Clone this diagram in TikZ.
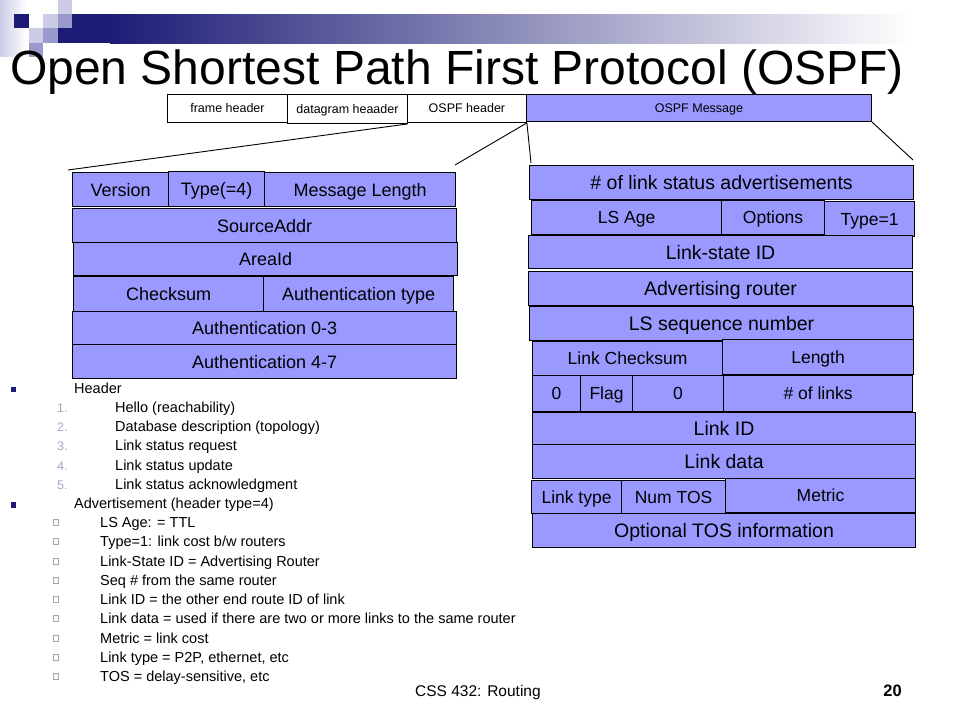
\documentclass[tikz,border=0pt]{standalone}
\usepackage{fontspec}
\setmainfont{Liberation Sans}
\definecolor{fieldc}{RGB}{153,153,255}
\definecolor{navy}{RGB}{28,28,118}
\definecolor{lav}{RGB}{204,204,230}
\definecolor{midlav}{RGB}{153,153,204}
\definecolor{numc}{RGB}{165,165,200}
\newcommand{\ospffld}[7]{\node[field,#7,minimum width={(#4-#2)*1pt},minimum height={(#5-#3)*1pt}] (#1) at (#2,#3) {#6};}
\tikzset{
  field/.style={draw=black, fill=fieldc, line width=1.1pt, inner sep=0pt, anchor=north west, text=black, text depth=0pt},
  hdrbox/.style={fill=white, line width=0.9pt, font=\fontsize{12.5}{14}\selectfont, text height=9pt},
  lfont/.style={font=\fontsize{18}{20}\selectfont, text height=12.9pt},
  rfont/.style={font=\fontsize{19.5}{22}\selectfont, text height=14pt},
  sfont/.style={font=\fontsize{17.5}{20}\selectfont, text height=12.5pt},
  listtxt/.style={anchor=base west, inner sep=0pt, font=\fontsize{14.5}{16}\selectfont},
  numtxt/.style={anchor=base west, inner sep=0pt, text=numc, font=\fontsize{12.5}{14}\selectfont},
  navybullet/.style={fill=navy, inner sep=0pt, minimum size=5.5pt},
  hollowbullet/.style={draw=gray!70, fill=white, line width=0.5pt, inner sep=0pt, minimum size=5.5pt},
  link/.style={draw=black, line width=0.9pt}
}
\begin{document}
\begin{tikzpicture}[x=1pt,y=-1pt]
\useasboundingbox[fill=white] (0,0) rectangle (960,720);
% top decoration
\shade[left color=lav, right color=white] (0,0) rectangle (26,56);
\shade[left color=navy, right color=white] (110,14) rectangle (913,43);
\fill[navy] (72,14) rectangle (111,43);
\fill[navy] (58,28) rectangle (72,43);
\fill[navy] (14,14) rectangle (29,28);
\fill[lav] (43,14) rectangle (58,28);
\fill[lav] (58,0) rectangle (72,14);
\fill[midlav] (58,14) rectangle (72,28);
\fill[lav] (29,28) rectangle (43,43);
\fill[midlav] (43,28) rectangle (58,43);
\fill[midlav] (29,43) rectangle (43,57);
% title
\node[anchor=base west, inner sep=0pt, font=\fontsize{48}{52}\selectfont] (title) at (10,84) {Open Shortest Path First Protocol (OSPF)};
% header bar
\ospffld{fh}{167}{94}{287}{122}{frame header}{hdrbox}
\ospffld{dh}{287}{94}{407}{123}{datagram heaader}{hdrbox}
\ospffld{oh}{407}{94}{526}{122}{OSPF header}{hdrbox}
\ospffld{om}{526}{94}{871}{121}{OSPF Message}{hdrbox, fill=fieldc}
% connectors
\coordinate (c1) at (68,170);
\coordinate (c2) at (455,165);
\coordinate (c3) at (531,163);
\coordinate (c4) at (913,160);
\draw[link] (dh.south east) -- (c1);
\draw[link] (oh.south east) -- (c2);
\draw[link] (oh.south east) -- (c3);
\draw[link] (om.south east) -- (c4);
% left block
\ospffld{ver}{72}{172}{168}{206}{Version}{lfont}
\ospffld{typ}{168}{171}{264}{206}{Type(=4)}{lfont}
\ospffld{mlen}{264}{172}{455}{206}{Message Length}{lfont}
\ospffld{src}{72}{208}{456}{242}{SourceAddr}{lfont}
\ospffld{area}{73}{242}{457}{275}{AreaId}{lfont}
\ospffld{cks}{73}{276}{263}{311}{Checksum}{lfont}
\ospffld{aut}{263}{276}{453}{311}{Authentication type}{lfont}
\ospffld{a03}{72}{311}{456}{344}{Authentication 0-3}{lfont}
\ospffld{a47}{72}{344}{456}{378}{Authentication 4-7}{lfont}
% right block
\ospffld{nlsa}{529}{165}{913}{199}{\# of link status advertisements}{rfont}
\ospffld{lsage}{531}{200}{721}{234}{LS Age}{sfont}
\ospffld{opt}{721}{200}{824}{234}{Options}{sfont}
\ospffld{tone}{824}{201}{914}{236}{Type=1}{sfont}
\ospffld{lsid}{528}{235}{912}{268}{Link-state ID}{rfont}
\ospffld{adv}{528}{271}{912}{305}{Advertising router}{rfont}
\ospffld{seq}{529}{306}{913}{340}{LS sequence number}{rfont}
\ospffld{lck}{532}{341}{722}{375}{Link Checksum}{sfont}
\ospffld{len}{722}{339}{913}{374}{Length}{sfont}
\ospffld{zone}{532}{375}{580}{411}{0}{sfont}
\ospffld{flag}{580}{375}{632}{411}{Flag}{sfont}
\ospffld{ztwo}{632}{375}{723}{411}{0}{sfont}
\ospffld{nl}{723}{375}{912}{411}{\# of links}{sfont}
\ospffld{lid}{532}{412}{915}{444}{Link ID}{rfont}
\ospffld{ldat}{532}{444}{915}{478}{Link data}{rfont}
\ospffld{metric}{725}{478}{915}{512}{Metric}{sfont}
\ospffld{ltype}{531}{480}{621}{513}{Link type}{sfont}
\ospffld{ntos}{621}{480}{725}{514}{Num TOS}{sfont}
\ospffld{otos}{532}{513}{915}{547}{Optional TOS information}{rfont}
% list
\node[navybullet] (b1) at (13.5,389.5) {};
\node[listtxt] (l1) at (74,393) {Header};
\node[numtxt] (n1) at (57,412) {1.};
\node[listtxt] (l2) at (115,412) {Hello (reachability)};
\node[numtxt] (n2) at (57,431) {2.};
\node[listtxt] (l3) at (115,431) {Database description (topology)};
\node[numtxt] (n3) at (57,450) {3.};
\node[listtxt] (l4) at (115,450) {Link status request};
\node[numtxt] (n4) at (57,470) {4.};
\node[listtxt] (l5) at (115,470) {Link status update};
\node[numtxt] (n5) at (57,489) {5.};
\node[listtxt] (l6) at (115,489) {Link status acknowledgment};
\node[navybullet] (b2) at (13.5,505) {};
\node[listtxt] (l7) at (74,508) {Advertisement (header type=4)};
\foreach \yy/\tt [count=\i] in {
  527/{LS Age: = TTL},
  546/{Type=1: link cost b/w routers},
  566/{Link-State ID = Advertising Router},
  585/{Seq \# from the same router},
  604/{Link ID = the other end route ID of link},
  623/{Link data = used if there are two or more links to the same router},
  643/{Metric = link cost},
  662/{Link type = P2P, ethernet, etc},
  681/{TOS = delay-sensitive, etc}}{
  \node[hollowbullet] (hb\i) at (55.5,\yy-5) {};
  \node[listtxt] (s\i) at (100,\yy) {\tt};
}
% footer
\node[anchor=base west, inner sep=0pt, font=\fontsize{15.5}{18}\selectfont] (foot) at (415,696) {CSS 432: Routing};
\node[anchor=base east, inner sep=0pt, font=\fontsize{16.5}{18}\selectfont\bfseries] (pnum) at (902,696) {20};
\end{tikzpicture}
\end{document}
